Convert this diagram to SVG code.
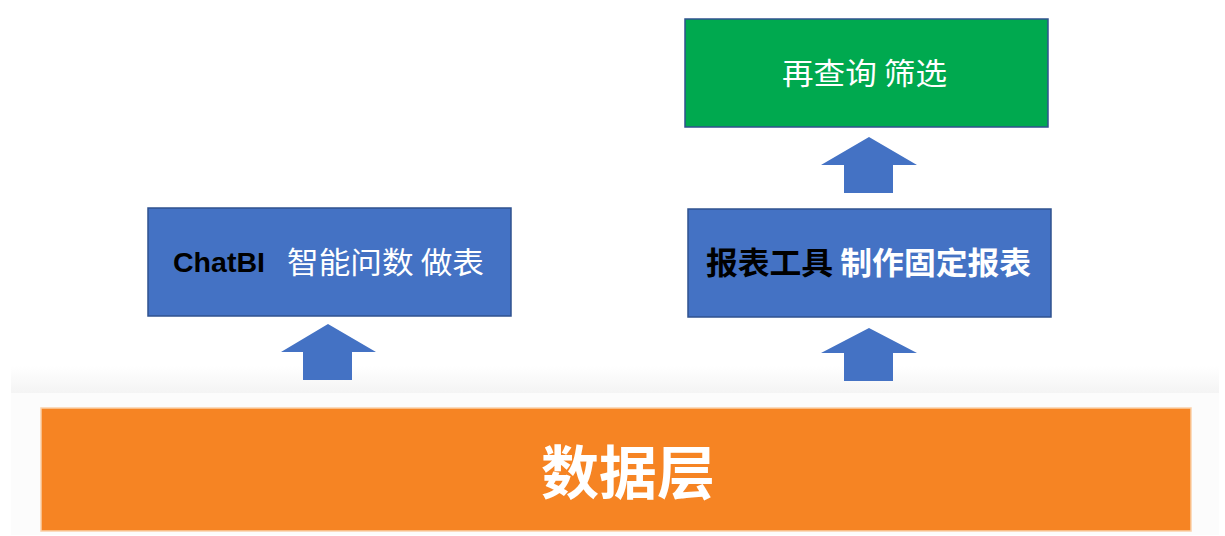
<svg xmlns="http://www.w3.org/2000/svg" width="1225" height="536" viewBox="0 0 1225 536">
  <defs>
    <linearGradient id="band" x1="0" y1="0" x2="0" y2="1">
      <stop offset="0" stop-color="#ffffff"/>
      <stop offset="1" stop-color="#f4f4f4"/>
    </linearGradient>
  </defs>
  <style>
    .blue { fill: #4472C4; stroke: #2F528F; stroke-width: 1.5; }
    .green { fill: #00A94F; stroke: #2F528F; stroke-width: 1.5; }
    .orange { fill: #F68423; stroke: #FAD0A8; stroke-width: 1.5; }
    .arrow { fill: #4472C4; }
    .cjk { font-family: "Noto Sans CJK SC", "Noto Sans", sans-serif; }
    .lat { font-family: "Liberation Sans", "Noto Sans CJK SC", sans-serif; }
  </style>
  <rect x="0" y="0" width="1225" height="536" fill="#ffffff"/>
  <rect x="11" y="366" width="1208" height="27" fill="url(#band)"/>
  <rect x="11" y="393" width="1208" height="142" fill="#fcfcfc"/>

  <g id="connectors">
    <polygon class="arrow" points="328,324 376,352 352,352 352,380 303,380 303,352 281,352"/>
    <polygon class="arrow" points="869,328 917,353 893,353 893,381 844,381 844,353 821,353"/>
    <polygon class="arrow" points="869,137 917,165 893,165 893,193 844,193 844,165 821,165"/>
  </g>

  <g id="node-data">
    <rect class="orange" x="41" y="408" width="1150" height="123"/>
    <text class="cjk" x="628" y="494" font-size="58" font-weight="bold" fill="#ffffff" text-anchor="middle">数据层</text>
  </g>

  <g id="node-chatbi">
    <rect class="blue" x="148" y="208" width="363" height="108"/>
    <text class="lat" x="173" y="272" font-size="27" font-weight="bold" fill="#000000" textLength="92" lengthAdjust="spacingAndGlyphs">ChatBI</text>
    <text class="cjk" x="287" y="273" font-size="30" fill="#ffffff" textLength="197" lengthAdjust="spacingAndGlyphs">智能问数 做表</text>
  </g>

  <g id="node-report">
    <rect class="blue" x="688" y="209" width="363" height="108"/>
    <text class="cjk" x="706" y="274" font-size="31" font-weight="bold" textLength="325" lengthAdjust="spacingAndGlyphs"><tspan fill="#000000">报表工具</tspan><tspan fill="#ffffff"> 制作固定报表</tspan></text>
  </g>

  <g id="node-query">
    <rect class="green" x="685" y="19" width="363" height="108"/>
    <text class="cjk" x="782" y="84" font-size="30" fill="#ffffff" textLength="165" lengthAdjust="spacingAndGlyphs">再查询 筛选</text>
  </g>
</svg>
